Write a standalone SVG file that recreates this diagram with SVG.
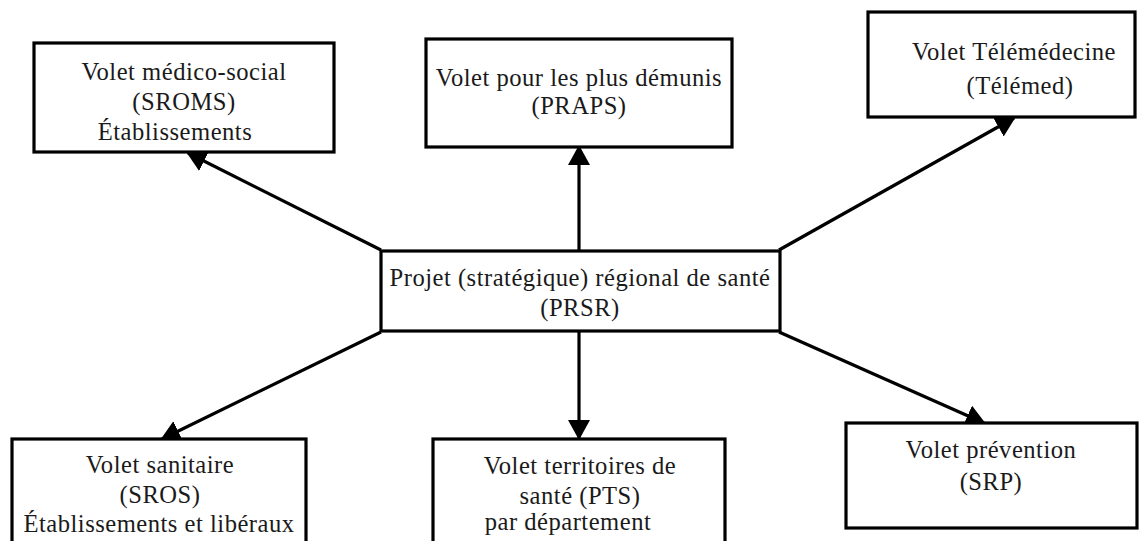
<svg xmlns="http://www.w3.org/2000/svg" width="1147" height="541" viewBox="0 0 1147 541">
<style>
.box{fill:#fff;stroke:#000;stroke-width:3.2}
.t{font-family:"Liberation Serif","Times New Roman",serif;font-size:24.6px;fill:#1a1a1a;text-anchor:middle;letter-spacing:0.5px}
.c{stroke:#000;stroke-width:3.2;fill:none;marker-end:url(#ah)}
</style>
<defs>
<marker id="ah" markerUnits="userSpaceOnUse" markerWidth="20" markerHeight="22" viewBox="0 0 20 22" refX="18" refY="11" orient="auto">
<path d="M0,0 L20,11 L0,22 z" fill="#000"/>
</marker>
</defs>
<g id="connectors">
<line class="c" x1="381" y1="250" x2="188" y2="153"/>
<line class="c" x1="579" y1="250" x2="579" y2="147"/>
<line class="c" x1="779" y1="250" x2="1014" y2="118"/>
<line class="c" x1="381" y1="332" x2="162" y2="439"/>
<line class="c" x1="579" y1="332" x2="579" y2="438"/>
<line class="c" x1="779" y1="332" x2="984" y2="423"/>
</g>
<g id="center">
<rect class="box" x="381" y="251" width="399" height="80"/>
<text class="t" x="580" y="286">Projet (stratégique) régional de santé</text>
<text class="t" x="580" y="316">(PRSR)</text>
</g>
<g id="medico-social">
<rect class="box" x="34" y="43" width="300" height="109"/>
<text class="t" x="184" y="80">Volet médico-social</text>
<text class="t" x="184" y="110">(SROMS)</text>
<text class="t" x="175" y="140">Établissements</text>
</g>
<g id="praps">
<rect class="box" x="426" y="39" width="306" height="108"/>
<text class="t" x="579" y="86">Volet pour les plus démunis</text>
<text class="t" x="579" y="114">(PRAPS)</text>
</g>
<g id="telemed">
<rect class="box" x="868" y="12" width="267" height="105"/>
<text class="t" x="1014" y="60">Volet Télémédecine</text>
<text class="t" x="1020" y="94">(Télémed)</text>
</g>
<g id="sanitaire">
<rect class="box" x="12" y="439" width="294" height="110"/>
<text class="t" x="160" y="473">Volet sanitaire</text>
<text class="t" x="160" y="503">(SROS)</text>
<text class="t" x="159" y="532">Établissements et libéraux</text>
</g>
<g id="territoires">
<rect class="box" x="433" y="439" width="292" height="110"/>
<text class="t" x="580" y="474">Volet territoires de</text>
<text class="t" x="580" y="504">santé (PTS)</text>
<text class="t" x="568" y="530">par département</text>
</g>
<g id="prevention">
<rect class="box" x="846" y="423" width="291" height="105"/>
<text class="t" x="991" y="458">Volet prévention</text>
<text class="t" x="991" y="490">(SRP)</text>
</g>
</svg>
